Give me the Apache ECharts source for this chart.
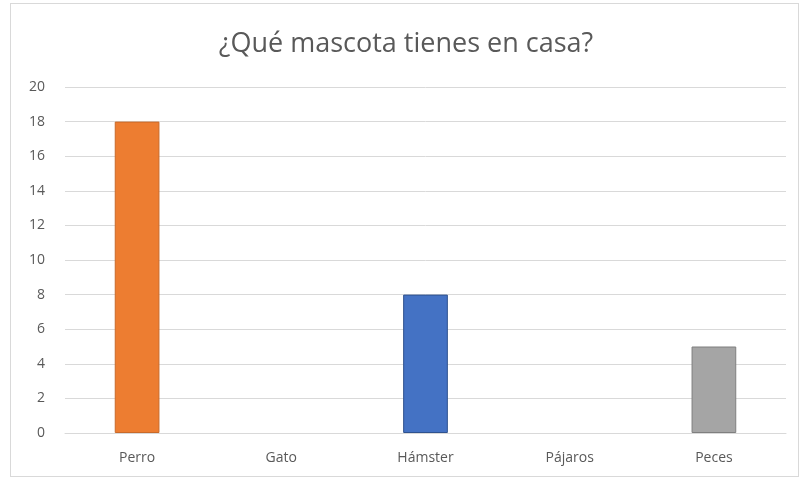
<!DOCTYPE html>
<html>
<head>
<meta charset="utf-8">
<script src="https://cdn.jsdelivr.net/npm/echarts@6/dist/echarts.min.js"></script>
<style>
  html, body { margin: 0; padding: 0; background: #ffffff; }
  #frame { position: absolute; left: 10px; top: 3px; width: 789px; height: 474px; border: 1px solid #d9d9d9; box-sizing: border-box; }
  #main { position: absolute; left: 0; top: 0; width: 812px; height: 480px; }
</style>
</head>
<body>
<div id="frame"></div>
<div id="main"></div>
<script>
// datos del gráfico
var mascotas = ['Perro', 'Gato', 'Hámster', 'Pájaros', 'Peces'];
var cantidades = [18, 0, 8, 0, 5];
var colores = ['#ED7D31', '#ED7D31', '#4472C4', '#4472C4', '#A5A5A5'];
var bordes = ['#C96A2A', '#C96A2A', '#2F528F', '#2F528F', '#7F7F7F'];

var myChart = echarts.init(document.getElementById('main'));

myChart.setOption({
    backgroundColor: 'transparent',
    animation: false,
    title: {
        text: '¿Qué mascota tienes en casa?',
        left: 'center',
        top: 26,
        textStyle: {
            color: '#595959',
            fontSize: 27,
            fontWeight: 'normal',
            fontFamily: 'Open Sans'
        }
    },
    grid: {
        left: 65,
        right: 26,
        top: 87,
        bottom: 47
    },
    xAxis: {
        type: 'category',
        data: mascotas,
        axisTick: { show: false },
        axisLine: { lineStyle: { color: '#d9d9d9' } },
        axisLabel: { color: '#595959', fontSize: 14, margin: 18, fontFamily: 'Open Sans' }
    },
    yAxis: {
        type: 'value',
        min: 0,
        max: 20,
        interval: 2,
        axisLine: { show: false },
        axisTick: { show: false },
        splitLine: { lineStyle: { color: '#d9d9d9' } },
        axisLabel: { color: '#595959', fontSize: 14, margin: 20, fontFamily: 'Open Sans' }
    },
    series: [{
        type: 'bar',
        barWidth: '31%',
        data: cantidades.map(function (v, i) {
            return {
                value: v,
                itemStyle: { color: colores[i], borderColor: bordes[i], borderWidth: v > 0 ? 1 : 0 }
            };
        })
    }]
});
</script>
</body>
</html>
